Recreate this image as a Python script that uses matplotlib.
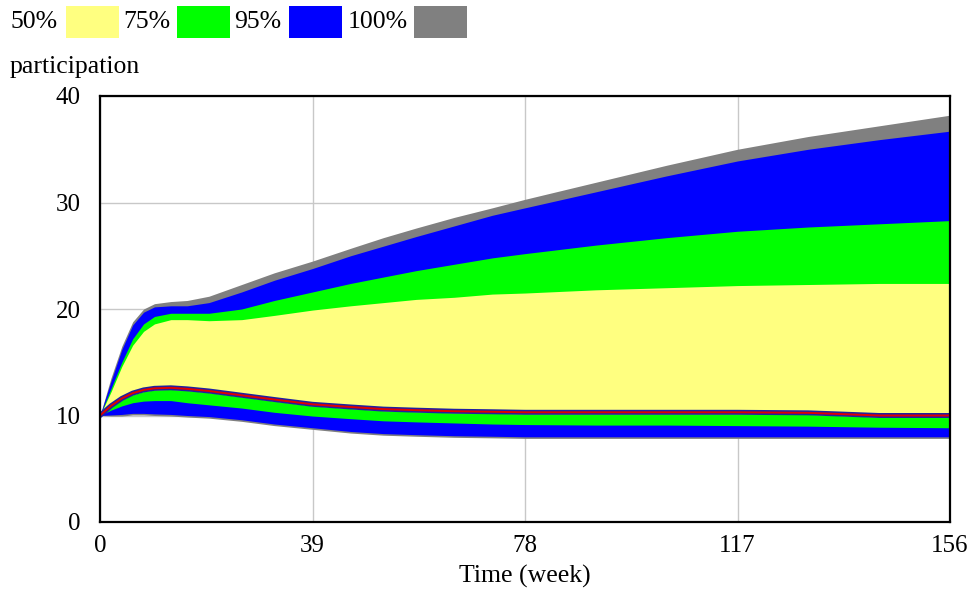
import matplotlib.pyplot as plt
from matplotlib.patches import Rectangle

# time axis (week) and confidence bounds
weeks = [0, 2, 4, 6, 8, 10, 13, 16, 20, 26, 32, 39, 46, 52, 58, 65, 72, 78,
         91, 104, 117, 130, 143, 156]

p100_hi = [10, 13.5, 16.5, 18.8, 20.0, 20.5, 20.7, 20.8, 21.2, 22.3, 23.4, 24.5,
           25.7, 26.7, 27.6, 28.6, 29.5, 30.3, 31.9, 33.5, 35.0, 36.2, 37.2, 38.2]
p95_hi = [10, 13.2, 16.2, 18.5, 19.7, 20.2, 20.3, 20.3, 20.6, 21.6, 22.7, 23.8,
          25.0, 25.9, 26.8, 27.8, 28.8, 29.5, 31.0, 32.5, 33.9, 35.0, 35.9, 36.7]
p75_hi = [10, 12.5, 15.0, 17.2, 18.6, 19.3, 19.6, 19.6, 19.6, 20.0, 20.8, 21.6,
          22.4, 23.0, 23.6, 24.2, 24.8, 25.2, 26.0, 26.7, 27.3, 27.7, 28.0, 28.3]
p50_hi = [10, 12.2, 14.6, 16.6, 17.9, 18.6, 19.0, 19.0, 18.9, 19.0, 19.4, 19.9,
          20.3, 20.6, 20.9, 21.1, 21.4, 21.5, 21.8, 22.0, 22.2, 22.3, 22.4, 22.4]

base_run = [10, 10.9, 11.6, 12.1, 12.4, 12.55, 12.6, 12.5, 12.3, 11.9, 11.5, 11.05,
            10.8, 10.6, 10.5, 10.4, 10.35, 10.3, 10.3, 10.3, 10.3, 10.25, 10.0, 10.0]

p50_lo = [10, 10.8, 11.45, 11.95, 12.25, 12.4, 12.45, 12.35, 12.15, 11.75, 11.35, 10.9,
          10.65, 10.45, 10.35, 10.25, 10.2, 10.15, 10.15, 10.15, 10.15, 10.1, 9.85, 9.85]
p75_lo = [10, 10.5, 10.9, 11.2, 11.35, 11.4, 11.4, 11.2, 11.0, 10.7, 10.3, 9.95,
          9.7, 9.5, 9.4, 9.3, 9.2, 9.15, 9.1, 9.1, 9.05, 9.0, 8.9, 8.85]
p95_lo = [10, 10.05, 10.1, 10.2, 10.2, 10.15, 10.1, 10.0, 9.9, 9.6, 9.2, 8.85,
          8.5, 8.3, 8.2, 8.1, 8.05, 8.0, 8.0, 8.0, 8.0, 8.0, 8.0, 8.0]
p100_lo = [10, 9.95, 9.95, 10.05, 10.05, 10.0, 9.95, 9.85, 9.75, 9.45, 9.05, 8.7,
           8.35, 8.15, 8.05, 7.95, 7.9, 7.85, 7.85, 7.85, 7.85, 7.85, 7.85, 7.85]

legend_labels = ["50%", "75%", "95%", "100%"]
band_colors = ["#FFFF80", "#00FF00", "#0000FF", "#808080"]

plt.rcParams['font.family'] = ['Liberation Serif', 'DejaVu Serif']

W, H = 976, 594
fig = plt.figure(figsize=(W / 100, H / 100), dpi=100)
ax = fig.add_axes([100 / W, 1 - 522 / H, 850 / W, 426 / H])

# widest band first so the narrower ones sit on top (yellow innermost)
bands = [(p100_lo, p100_hi), (p95_lo, p95_hi), (p75_lo, p75_hi), (p50_lo, p50_hi)]
for (lo, hi), col in zip(bands, band_colors[::-1]):
    ax.fill_between(weeks, lo, hi, color=col, lw=0, zorder=2)

# base run: red line with a dark blue outline
ax.plot(weeks, base_run, color="#2020A0", lw=3.6, zorder=3)
ax.plot(weeks, base_run, color="#E00000", lw=1.4, zorder=4)

ax.set_xlim(0, 156)
ax.set_ylim(0, 40)
ax.set_xticks([0, 39, 78, 117, 156])
ax.set_yticks([0, 10, 20, 30, 40])
ax.grid(True, color="#C8C8C8", lw=1, zorder=1)
ax.tick_params(length=0, labelsize=18)
ax.tick_params(axis='y', pad=14)
ax.tick_params(axis='x', pad=9)
for s in ax.spines.values():
    s.set_linewidth(1.6)
    s.set_zorder(5)
ax.set_xlabel("Time (week)", fontsize=18.5, labelpad=6)

# legend row along the top
text_x = [10, 123, 234, 348]
box_x = [66, 177, 289, 414]
for lab, tx, bx, col in zip(legend_labels, text_x, box_x, band_colors):
    fig.text(tx / W, 1 - 22 / H, lab, fontsize=18.5, va='center', ha='left')
    fig.add_artist(Rectangle((bx / W, 1 - 38 / H), 53 / W, 32 / H,
                             transform=fig.transFigure, color=col, lw=0))

fig.text(10 / W, 1 - 67 / H, "participation", fontsize=18.5, va='center', ha='left')

fig.savefig("out.png", dpi=100)
